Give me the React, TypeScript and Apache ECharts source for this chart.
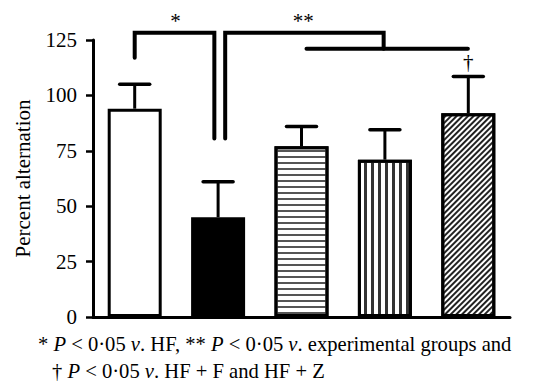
import React, { useEffect, useRef } from 'react';
import * as echarts from 'echarts';

// ---- data ----
const groups = ['Control', 'HF', 'HF+F', 'HF+Z', 'HF+F+Z'];
const means = [94, 45, 77, 71, 92];
const errorTops = [105, 61, 86, 84.5, 108.5];
const yTicks = { min: 0, max: 125, interval: 25 };

// significance brackets: polylines in [category position, value]
const brackets = [
  [[0, 117], [0, 128.3], [0.955, 128.3], [0.955, 80.5]],
  [[1.085, 80.5], [1.085, 128.3], [2.985, 128.3], [2.985, 121]],
  [[2.06, 121], [3.995, 121]],
];
// significance markers: [category position, value, text]
const markers: [number, number, string][] = [
  [0.49, 133.5, '*'],
  [2.02, 133.5, '**'],
  [4, 115, '†'],
];

const SERIF = 'Liberation Serif';

function catX(api: any, c: number, v: number) {
  const f = Math.floor(c);
  const p = api.coord([f, v]);
  const bw = api.size([1, 0])[0];
  return [p[0] + (c - f) * bw, p[1]];
}

export default function App() {
  const ref = useRef<HTMLDivElement>(null);
  useEffect(() => {
    if (!ref.current) return;
    const chart = echarts.init(ref.current, null, { renderer: 'svg' });
    const fills: any[] = [
      { color: '#ffffff' },
      { color: '#000000' },
      {
        color: '#ffffff',
        decal: { symbol: 'rect', symbolSize: 1, dashArrayX: [1, 0], dashArrayY: [2, 4], color: '#555', backgroundColor: '#fff', rotation: 0 },
      },
      {
        color: '#ffffff',
        decal: { symbol: 'rect', symbolSize: 1, dashArrayX: [2.5, 3.8], dashArrayY: [1, 0], color: '#333', backgroundColor: '#fff', rotation: 0 },
      },
      {
        color: '#ffffff',
        decal: { symbol: 'rect', symbolSize: 1, dashArrayX: [1, 0], dashArrayY: [1.6, 2], color: '#222', backgroundColor: '#fff', rotation: -Math.PI / 4 },
      },
    ];
    const rich = {
      n: { fontFamily: SERIF, fontSize: 20.6, fill: '#000' },
      i: { fontFamily: SERIF, fontSize: 20.6, fontStyle: 'italic', fill: '#000' },
    };
    const option: any = {
      animation: false,
      grid: { left: 93, right: 49, top: 40, bottom: 75, containLabel: false },
      xAxis: {
        type: 'category',
        data: groups,
        axisLine: { lineStyle: { color: '#000', width: 3 } },
        axisTick: { alignWithLabel: true, length: 8, lineStyle: { color: '#000', width: 2.5 } },
        axisLabel: { show: false },
      },
      yAxis: {
        type: 'value',
        min: yTicks.min,
        max: yTicks.max,
        interval: yTicks.interval,
        name: 'Percent alternation',
        nameLocation: 'middle',
        nameRotate: 90,
        nameGap: 60,
        nameTextStyle: { fontFamily: SERIF, fontSize: 21, color: '#000' },
        splitLine: { show: false },
        axisLine: { show: true, lineStyle: { color: '#000', width: 3 } },
        axisTick: { show: true, length: 7, lineStyle: { color: '#000', width: 2.5 } },
        axisLabel: { fontFamily: SERIF, fontSize: 21, color: '#000', margin: 16 },
      },
      series: [
        {
          type: 'custom',
          z: 1,
          data: groups.map((_, i) => [i, means[i], errorTops[i]]),
          renderItem: (params: any, api: any) => {
            const i = api.value(0);
            const p0 = api.coord([i, api.value(1)]);
            const p1 = api.coord([i, api.value(2)]);
            const half = 15;
            return {
              type: 'group',
              children: [
                { type: 'line', shape: { x1: p0[0], y1: p0[1], x2: p1[0], y2: p1[1] }, style: { stroke: '#000', lineWidth: 3 } },
                { type: 'line', shape: { x1: p1[0] - half, y1: p1[1], x2: p1[0] + half, y2: p1[1] }, style: { stroke: '#000', lineWidth: 3.5, lineCap: 'round' } },
              ],
            };
          },
        },
        {
          type: 'bar',
          z: 3,
          barWidth: 54,
          data: means.map((v, i) => ({ value: v, itemStyle: { ...fills[i], borderColor: '#000', borderWidth: 3 } })),
        },
        {
          type: 'custom',
          clip: false,
          z: 4,
          data: brackets.map((_, i) => i),
          renderItem: (params: any, api: any) => {
            const pts = brackets[params.dataIndex].map(([c, v]) => catX(api, c, v));
            return {
              type: 'polyline',
              shape: { points: pts },
              style: { stroke: '#000', lineWidth: 4, fill: null, lineCap: 'round', lineJoin: 'miter' },
            };
          },
        },
        {
          type: 'custom',
          clip: false,
          z: 4,
          data: markers.map((_, i) => i),
          renderItem: (params: any, api: any) => {
            const [c, v, t] = markers[params.dataIndex];
            const p = catX(api, c, v);
            return {
              type: 'text',
              x: p[0],
              y: p[1],
              style: { text: t, fontFamily: SERIF, fontSize: 21, fill: '#000', align: 'center', verticalAlign: 'middle' },
            };
          },
        },
      ],
      graphic: [
        {
          type: 'text',
          left: 38,
          top: 333,
          style: {
            text: '{n|* }{i|P}{n| < 0·05 }{i|v}{n|. HF, ** }{i|P}{n| < 0·05 }{i|v}{n|. experimental groups and}',
            rich,
          },
        },
        {
          type: 'text',
          left: 52,
          top: 360,
          style: {
            text: '{n|† }{i|P}{n| < 0·05 }{i|v}{n|. HF + F and HF + Z}',
            rich,
          },
        },
      ],
    };
    chart.setOption(option);
    return () => chart.dispose();
  }, []);
  return <div ref={ref} style={{ width: 559, height: 392, position: 'absolute', left: 0, top: 0 }} />;
}
